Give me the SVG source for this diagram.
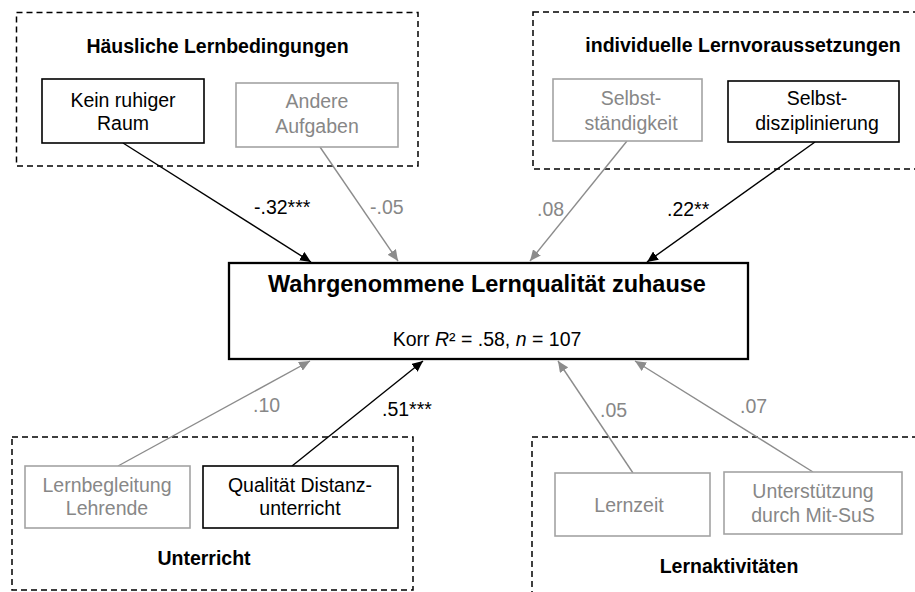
<svg xmlns="http://www.w3.org/2000/svg" width="915" height="592" viewBox="0 0 915 592">
<defs>
<style>
text{font-family:"Liberation Sans",Arial,sans-serif;font-size:19.5px;text-anchor:middle}
.t{font-weight:bold}
.k{fill:#000}
.g{fill:#878787}
.lbl{text-anchor:start}
.grp{fill:none;stroke:#000;stroke-width:1.5;stroke-dasharray:6,4}
.bk{fill:#fff;stroke:#000;stroke-width:1.6}
.bg{fill:#fff;stroke:#a3a3a3;stroke-width:1.6}
.ek{stroke:#000;stroke-width:1.4;fill:none;marker-end:url(#ak)}
.eg{stroke:#8c8c8c;stroke-width:1.4;fill:none;marker-end:url(#ag)}
</style>
<marker id="ak" markerUnits="userSpaceOnUse" markerWidth="12" markerHeight="10" refX="11" refY="5" orient="auto"><path d="M0,0 L11,5 L0,10 z" fill="#000"/></marker>
<marker id="ag" markerUnits="userSpaceOnUse" markerWidth="12" markerHeight="10" refX="11" refY="5" orient="auto"><path d="M0,0 L11,5 L0,10 z" fill="#8c8c8c"/></marker>
</defs>
<rect width="915" height="592" fill="#fff"/>

<g id="grp-haeuslich">
<rect class="grp" x="16.5" y="12.5" width="401.5" height="153.5"/>
<text class="t k" x="217.5" y="53">Häusliche Lernbedingungen</text>
</g>
<g id="grp-individuell">
<rect class="grp" x="533" y="12" width="400" height="157"/>
<text class="t k" x="743" y="52">individuelle Lernvoraussetzungen</text>
</g>
<g id="grp-unterricht">
<rect class="grp" x="12" y="437" width="401" height="153"/>
<text class="t k" x="204" y="565">Unterricht</text>
</g>
<g id="grp-lernaktiv">
<rect class="grp" x="532" y="437" width="400" height="170"/>
<text class="t k" x="729" y="573">Lernaktivitäten</text>
</g>

<g id="connectors">
<line class="ek" x1="123" y1="143" x2="311" y2="262"/>
<line class="eg" x1="320" y1="147" x2="398" y2="261"/>
<line class="eg" x1="627" y1="141" x2="530" y2="261"/>
<line class="ek" x1="815" y1="142" x2="647" y2="262"/>
<line class="eg" x1="118" y1="466" x2="310" y2="361"/>
<line class="ek" x1="292" y1="466" x2="423" y2="361"/>
<line class="eg" x1="633" y1="473" x2="558" y2="361"/>
<line class="eg" x1="813" y1="472" x2="635" y2="361"/>
<text class="lbl k" x="254" y="214">-.32***</text>
<text class="lbl g" x="370" y="214">-.05</text>
<text class="lbl g" x="537" y="216">.08</text>
<text class="lbl k" x="667" y="216">.22**</text>
<text class="lbl g" x="253" y="412">.10</text>
<text class="lbl k" x="382" y="416">.51***</text>
<text class="lbl g" x="600" y="417">.05</text>
<text class="lbl g" x="740" y="413">.07</text>
</g>

<g id="kein-ruhiger-raum">
<rect class="bk" x="42" y="79" width="162" height="64"/>
<text class="k" x="123" y="107">Kein ruhiger</text>
<text class="k" x="123" y="130">Raum</text>
</g>
<g id="andere-aufgaben">
<rect class="bg" x="236" y="83" width="162" height="64"/>
<text class="g" x="317" y="108">Andere</text>
<text class="g" x="317" y="133">Aufgaben</text>
</g>
<g id="selbststaendigkeit">
<rect class="bg" x="553" y="79" width="149" height="62"/>
<text class="g" x="631" y="105">Selbst-</text>
<text class="g" x="631" y="130">ständigkeit</text>
</g>
<g id="selbstdisziplinierung">
<rect class="bk" x="728" y="81" width="171" height="61"/>
<text class="k" x="817" y="105">Selbst-</text>
<text class="k" x="817" y="130">disziplinierung</text>
</g>

<g id="lernqualitaet">
<rect x="229" y="263" width="519" height="96" fill="#fff" stroke="#000" stroke-width="2.3"/>
<text class="t k" x="487" y="292" style="font-size:23.5px">Wahrgenommene Lernqualität zuhause</text>
<text class="k" x="487" y="346">Korr <tspan font-style="italic">R</tspan>² = .58, <tspan font-style="italic">n</tspan> = 107</text>
</g>

<g id="lernbegleitung">
<rect class="bg" x="25" y="466" width="165" height="62"/>
<text class="g" x="107" y="492">Lernbegleitung</text>
<text class="g" x="107" y="515">Lehrende</text>
</g>
<g id="qualitaet-distanzunterricht">
<rect class="bk" x="203" y="466" width="195" height="62"/>
<text class="k" x="300" y="492">Qualität Distanz-</text>
<text class="k" x="300" y="515">unterricht</text>
</g>
<g id="lernzeit">
<rect class="bg" x="555" y="473" width="155" height="63"/>
<text class="g" x="629" y="512">Lernzeit</text>
</g>
<g id="unterstuetzung">
<rect class="bg" x="724" y="472" width="178" height="62"/>
<text class="g" x="813" y="498">Unterstützung</text>
<text class="g" x="813" y="522">durch Mit-SuS</text>
</g>
</svg>
